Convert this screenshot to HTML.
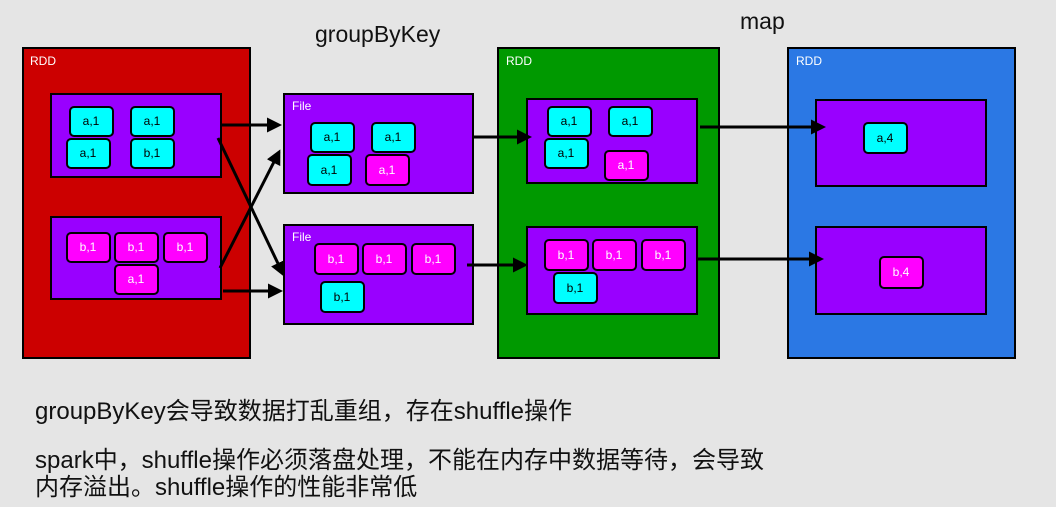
<!DOCTYPE html>
<html><head><meta charset="utf-8"><style>
html,body{margin:0;padding:0;background:#e5e5e5;}
svg{display:block;}
.lbl{font-family:"Liberation Sans","DejaVu Sans",sans-serif;font-size:12px;fill:#fff;}
.k{font-family:"Liberation Sans",sans-serif;font-size:12px;text-anchor:middle;dominant-baseline:central;}
.t{font-family:"Liberation Sans","Noto Sans CJK SC",sans-serif;fill:#111;}
</style></head><body>
<svg width="1056" height="507" viewBox="0 0 1056 507" xmlns="http://www.w3.org/2000/svg">
<defs>
<marker id="ah" markerWidth="5" markerHeight="5" refX="4" refY="2.5" orient="auto" markerUnits="strokeWidth">
<path d="M0,0 L5,2.5 L0,5 Z" fill="#000"/></marker>
</defs>
<rect width="1056" height="507" fill="#e5e5e5"/>
<text x="315" y="42" class="t" style="font-size:23px">groupByKey</text>
<text x="740" y="29" class="t" style="font-size:23px">map</text>

<rect x="23" y="48" width="227" height="310" fill="#cc0000" stroke="#000" stroke-width="2"/>
<text x="30" y="65" class="lbl">RDD</text>
<rect x="51" y="94" width="170" height="83" fill="#9900ff" stroke="#000" stroke-width="2"/>
<rect x="51" y="217" width="170" height="82" fill="#9900ff" stroke="#000" stroke-width="2"/>
<g stroke="#000" stroke-width="2">
<rect x="70" y="107" width="43" height="29" rx="4" fill="#00ffff"/>
<rect x="131" y="107" width="43" height="29" rx="4" fill="#00ffff"/>
<rect x="67" y="139" width="43" height="29" rx="4" fill="#00ffff"/>
<rect x="131" y="139" width="43" height="29" rx="4" fill="#00ffff"/>
<rect x="67" y="233" width="43" height="29" rx="4" fill="#ff00ff"/>
<rect x="115" y="233" width="43" height="29" rx="4" fill="#ff00ff"/>
<rect x="164" y="233" width="43" height="29" rx="4" fill="#ff00ff"/>
<rect x="115" y="265" width="43" height="29" rx="4" fill="#ff00ff"/>
</g>
<text x="91" y="121" class="k">a,1</text><text x="152" y="121" class="k">a,1</text>
<text x="88" y="153" class="k">a,1</text><text x="152" y="153" class="k">b,1</text>
<text x="88" y="247" class="k" fill="#fff">b,1</text><text x="136" y="247" class="k" fill="#fff">b,1</text>
<text x="185" y="247" class="k" fill="#fff">b,1</text><text x="136" y="279" class="k" fill="#fff">a,1</text>

<rect x="284" y="94" width="189" height="99" fill="#9900ff" stroke="#000" stroke-width="2"/>
<text x="292" y="110" class="lbl">File</text>
<rect x="284" y="225" width="189" height="99" fill="#9900ff" stroke="#000" stroke-width="2"/>
<text x="292" y="241" class="lbl">File</text>
<g stroke="#000" stroke-width="2">
<rect x="311" y="123" width="43" height="29" rx="4" fill="#00ffff"/>
<rect x="372" y="123" width="43" height="29" rx="4" fill="#00ffff"/>
<rect x="308" y="155" width="43" height="30" rx="4" fill="#00ffff"/>
<rect x="366" y="155" width="43" height="30" rx="4" fill="#ff00ff"/>
<rect x="315" y="244" width="43" height="30" rx="4" fill="#ff00ff"/>
<rect x="363" y="244" width="43" height="30" rx="4" fill="#ff00ff"/>
<rect x="412" y="244" width="43" height="30" rx="4" fill="#ff00ff"/>
<rect x="321" y="282" width="43" height="30" rx="4" fill="#00ffff"/>
</g>
<text x="332" y="137" class="k">a,1</text><text x="393" y="137" class="k">a,1</text>
<text x="329" y="170" class="k">a,1</text><text x="387" y="170" class="k" fill="#fff">a,1</text>
<text x="336" y="259" class="k" fill="#fff">b,1</text><text x="384" y="259" class="k" fill="#fff">b,1</text>
<text x="433" y="259" class="k" fill="#fff">b,1</text><text x="342" y="297" class="k">b,1</text>

<rect x="498" y="48" width="221" height="310" fill="#009900" stroke="#000" stroke-width="2"/>
<text x="506" y="65" class="lbl">RDD</text>
<rect x="527" y="99" width="170" height="84" fill="#9900ff" stroke="#000" stroke-width="2"/>
<rect x="527" y="227" width="170" height="87" fill="#9900ff" stroke="#000" stroke-width="2"/>
<g stroke="#000" stroke-width="2">
<rect x="548" y="107" width="43" height="29" rx="4" fill="#00ffff"/>
<rect x="609" y="107" width="43" height="29" rx="4" fill="#00ffff"/>
<rect x="545" y="139" width="43" height="29" rx="4" fill="#00ffff"/>
<rect x="605" y="151" width="43" height="29" rx="4" fill="#ff00ff"/>
<rect x="545" y="240" width="43" height="30" rx="4" fill="#ff00ff"/>
<rect x="593" y="240" width="43" height="30" rx="4" fill="#ff00ff"/>
<rect x="642" y="240" width="43" height="30" rx="4" fill="#ff00ff"/>
<rect x="554" y="273" width="43" height="30" rx="4" fill="#00ffff"/>
</g>
<text x="569" y="121" class="k">a,1</text><text x="630" y="121" class="k">a,1</text>
<text x="566" y="153" class="k">a,1</text><text x="626" y="165" class="k" fill="#fff">a,1</text>
<text x="566" y="255" class="k" fill="#fff">b,1</text><text x="614" y="255" class="k" fill="#fff">b,1</text>
<text x="663" y="255" class="k" fill="#fff">b,1</text><text x="575" y="288" class="k">b,1</text>

<rect x="788" y="48" width="227" height="310" fill="#2b78e4" stroke="#000" stroke-width="2"/>
<text x="796" y="65" class="lbl">RDD</text>
<rect x="816" y="100" width="170" height="86" fill="#9900ff" stroke="#000" stroke-width="2"/>
<rect x="816" y="227" width="170" height="87" fill="#9900ff" stroke="#000" stroke-width="2"/>
<rect x="864" y="123" width="43" height="30" rx="4" fill="#00ffff" stroke="#000" stroke-width="2"/>
<rect x="880" y="257" width="43" height="31" rx="4" fill="#ff00ff" stroke="#000" stroke-width="2"/>
<text x="885" y="138" class="k">a,4</text>
<text x="901" y="272" class="k" fill="#fff">b,4</text>

<g stroke="#000" stroke-width="3" fill="none" marker-end="url(#ah)">
<line x1="221" y1="125" x2="279" y2="125"/>
<line x1="218" y1="138" x2="283" y2="274"/>
<line x1="220" y1="268" x2="279" y2="152"/>
<line x1="223" y1="291" x2="280" y2="291"/>
<line x1="473" y1="137" x2="529" y2="137"/>
<line x1="467" y1="265" x2="525" y2="265"/>
<line x1="700" y1="127" x2="823" y2="127"/>
<line x1="697" y1="259" x2="821" y2="259"/>
</g>

<text x="35" y="419" class="t" style="font-size:24px">groupByKey会导致数据打乱重组，存在shuffle操作</text>
<text x="35" y="468" class="t" style="font-size:24px">spark中，shuffle操作必须落盘处理，不能在内存中数据等待，会导致</text>
<text x="35" y="495" class="t" style="font-size:24px">内存溢出。shuffle操作的性能非常低</text>
</svg>
</body></html>
